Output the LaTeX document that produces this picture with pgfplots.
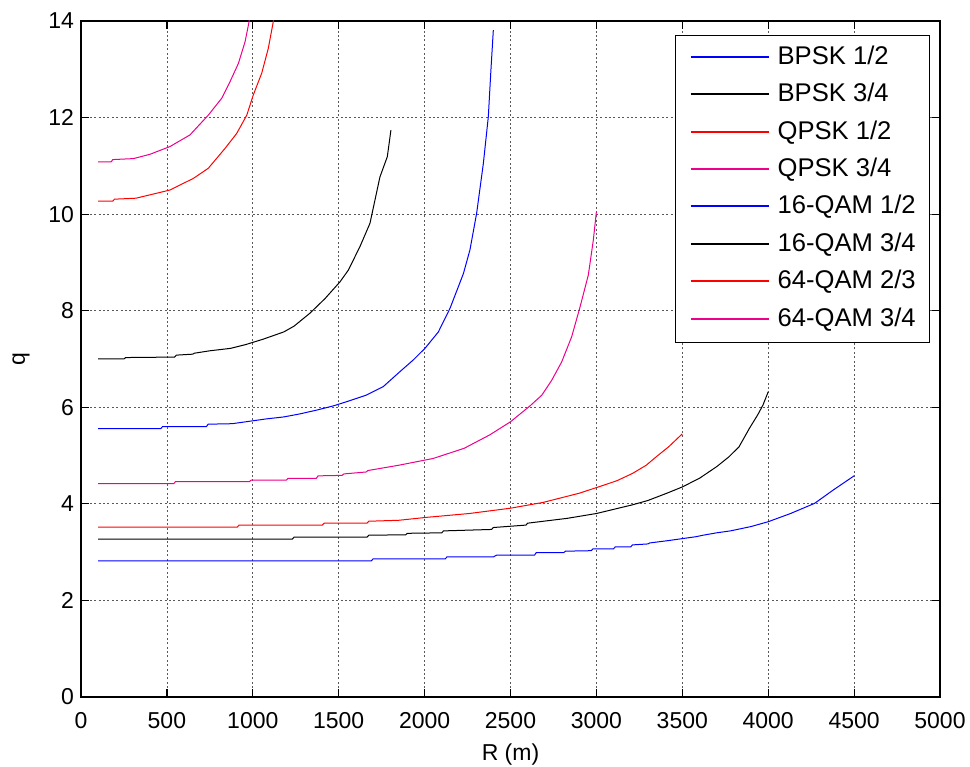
\documentclass[border=0pt]{standalone}
\usepackage{fontspec}
\setmainfont{Liberation Sans}
\usepackage{pgfplots}
\pgfplotsset{compat=1.18}

\begin{document}
\begin{tikzpicture}
\useasboundingbox (-40.5bp,-35bp) rectangle (444.5bp,348.5bp);
\begin{axis}[
  at={(0,0)}, anchor=south west,
  scale only axis, width=429.5bp, height=338bp,
  xmin=0, xmax=5000, ymin=0, ymax=14,
  xtick={0,500,...,5000}, ytick={0,2,...,14},
  scaled x ticks=false,
  xticklabel style={/pgf/number format/1000 sep={}, yshift=-4bp},
  /pgf/number format/assume math mode=true,
  tick label style={font=\fontsize{11.5bp}{13bp}\selectfont},
  label style={font=\fontsize{11.5bp}{13bp}\selectfont},
  tick align=inside, major tick length=4bp,
  tick style={black, line width=0.6bp},
  axis line style={line width=0.8bp},
  grid=major,
  grid style={black!65, line width=0.4bp, dash pattern=on 1bp off 1.2bp},
  xlabel={R (m)}, ylabel={q},
  xlabel style={at={(axis description cs:0.5,-0.0858)}, anchor=center},
  ylabel style={at={(axis description cs:-0.0698,0.5)}, anchor=center},
  legend cell align=left,
  legend image code/.code={\draw[#1,line width=1bp] (0bp,0.5bp) -- (39bp,0.5bp);},
  legend style={at={(0.9884,0.9793)}, anchor=north east,
    inner xsep=7bp, inner ysep=5bp, row sep=6.2bp,
    nodes={inner sep=0bp, text height=9.5bp, text depth=3bp},
    font=\fontsize{12.8bp}{14bp}\selectfont,
    /tikz/every odd column/.append style={column sep=4bp}},
]
% BPSK 1/2
\addplot[color=blue, line width=0.5bp] coordinates {
(100,2.82) (1690,2.82) (1700,2.86) (2120,2.86) (2130,2.90) (2400,2.90) (2420,2.94)
(2640,2.94) (2650,2.99) (2810,2.99) (2820,3.02) (2970,3.03) (2980,3.07) (3100,3.07)
(3110,3.11) (3200,3.11) (3210,3.15) (3300,3.17) (3310,3.19) (3420,3.24) (3500,3.28)
(3580,3.32) (3620,3.35) (3700,3.40) (3780,3.44) (3900,3.53) (4000,3.63) (4130,3.80)
(4270,4.01) (4380,4.29) (4500,4.58)
};
% BPSK 3/4
\addplot[color=black, line width=0.5bp] coordinates {
(100,3.27) (1230,3.27) (1240,3.31) (1665,3.31) (1675,3.35) (1890,3.36) (1900,3.39)
(2100,3.40) (2110,3.44) (2390,3.47) (2400,3.51) (2590,3.56) (2600,3.60) (2830,3.70)
(3000,3.80) (3210,3.98) (3300,4.07) (3410,4.22) (3500,4.35) (3600,4.53) (3700,4.77)
(3770,4.97) (3830,5.18) (3890,5.56) (3940,5.85) (3970,6.05) (4000,6.32)
};
% QPSK 1/2
\addplot[color=red, line width=0.5bp] coordinates {
(100,3.52) (910,3.52) (920,3.56) (1405,3.56) (1415,3.60) (1665,3.60) (1675,3.64)
(1850,3.66) (2010,3.72) (2260,3.80) (2500,3.91) (2690,4.03) (2900,4.22) (3020,4.36)
(3120,4.48) (3210,4.63) (3290,4.80) (3350,4.98) (3420,5.18) (3500,5.45)
};
% QPSK 3/4
\addplot[color=magenta, line width=0.5bp] coordinates {
(100,4.42) (540,4.42) (550,4.46) (980,4.46) (990,4.49) (1195,4.49) (1205,4.53)
(1370,4.53) (1380,4.58) (1520,4.59) (1530,4.62) (1660,4.66) (1670,4.69) (1850,4.80)
(2050,4.94) (2230,5.15) (2380,5.43) (2500,5.70) (2614,6.03) (2682,6.25) (2740,6.56)
(2798,6.94) (2856,7.46) (2905,8.08) (2953,8.74) (2982,9.46) (3000,10.05)
};
% 16-QAM 1/2
\addplot[color=blue, line width=0.5bp] coordinates {
(100,5.56) (465,5.56) (475,5.60) (730,5.60) (740,5.65) (880,5.66) (1000,5.72)
(1080,5.76) (1180,5.80) (1270,5.86) (1370,5.94) (1470,6.03) (1550,6.12) (1660,6.25)
(1760,6.43) (1857,6.74) (1934,6.98) (2002,7.22) (2080,7.56) (2148,8.05) (2226,8.77)
(2264,9.26) (2303,10.02) (2342,11.05) (2371,12.02) (2385,12.92) (2400,13.81)
};
% 16-QAM 3/4
\addplot[color=black, line width=0.5bp] coordinates {
(100,7.00) (250,7.00) (260,7.03) (545,7.04) (555,7.08) (650,7.10) (660,7.12)
(750,7.17) (870,7.22) (960,7.30) (1060,7.41) (1180,7.56) (1240,7.68) (1333,7.95)
(1420,8.25) (1508,8.60) (1556,8.84) (1624,9.33) (1682,9.81) (1740,10.77) (1783,11.19)
(1804,11.74)
};
% 64-QAM 2/3
\addplot[color=red, line width=0.5bp] coordinates {
(100,10.27) (185,10.27) (195,10.31) (320,10.33) (402,10.40) (518,10.50) (654,10.74)
(741,10.95) (838,11.36) (906,11.67) (965,12.05) (1003,12.47) (1052,12.92) (1090,13.43)
(1119,13.98) (1135,14.3)
};
% 64-QAM 3/4
\addplot[color=magenta, line width=0.5bp] coordinates {
(100,11.08) (175,11.08) (185,11.13) (305,11.15) (402,11.24) (518,11.40) (634,11.64)
(741,12.05) (819,12.40) (867,12.74) (916,13.12) (955,13.57) (978,13.98) (990,14.3)
};
\legend{BPSK 1/2, BPSK 3/4, QPSK 1/2, QPSK 3/4, 16-QAM 1/2, 16-QAM 3/4, 64-QAM 2/3, 64-QAM 3/4}
\end{axis}
\end{tikzpicture}
\end{document}
